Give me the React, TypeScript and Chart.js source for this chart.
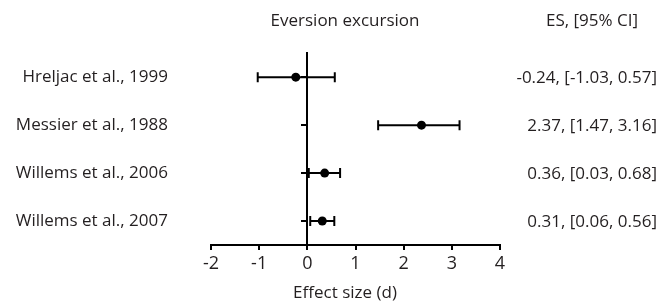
import React, { useEffect, useRef } from "react";
import { Chart, registerables } from "chart.js";

Chart.register(...registerables);

const studies = [
  "Hreljac et al., 1999",
  "Messier et al., 1988",
  "Willems et al., 2006",
  "Willems et al., 2007",
];
const effectSizes = [-0.24, 2.37, 0.36, 0.31];
const lowerCI = [-1.03, 1.47, 0.03, 0.06];
const upperCI = [0.57, 3.16, 0.68, 0.56];
const xTicks = [-2, -1, 0, 1, 2, 3, 4];

const plotTitle = "Eversion excursion";
const columnTitle = "ES, [95% CI]";
const xTitle = "Effect size (d)";

const FONT = "'Open Sans', sans-serif";
const TEXT = "#231f20";
const INK = "#000000";

const rowTicks = (axis: any) => {
  axis.ticks = studies.map((_, i) => ({ value: i }));
};

export default function App() {
  const ref = useRef<HTMLCanvasElement | null>(null);

  useEffect(() => {
    if (!ref.current) return;

    const ciSets = studies.map((_, i) => ({
      type: "scatter" as const,
      data: [
        { x: lowerCI[i], y: i },
        { x: upperCI[i], y: i },
      ],
      showLine: true,
      borderColor: INK,
      borderWidth: 2,
      pointStyle: "line" as const,
      rotation: 90,
      pointRadius: 5,
      pointBorderWidth: 2,
      pointBorderColor: INK,
      pointBackgroundColor: INK,
      yAxisID: "y",
      order: 2,
    }));

    const annotations = {
      id: "forestText",
      afterDraw(chart: any) {
        const { ctx } = chart;
        const ys = chart.scales.y;
        ctx.save();
        ctx.fillStyle = TEXT;
        ctx.font = `17px ${FONT}`;
        ctx.textBaseline = "middle";
        ctx.textAlign = "center";
        ctx.fillText(plotTitle, 345, 21);
        ctx.fillText(columnTitle, 592, 21);
        ctx.fillText(xTitle, 345, 293);
        ctx.textAlign = "right";
        studies.forEach((_, i) => {
          const t = `${effectSizes[i].toFixed(2)}, [${lowerCI[i].toFixed(2)}, ${upperCI[i].toFixed(2)}]`;
          ctx.fillText(t, 657, ys.getPixelForValue(i) + 1);
        });
        ctx.restore();
      },
    };

    const chart = new Chart(ref.current, {
      type: "scatter",
      data: {
        datasets: [
          ...ciSets,
          {
            type: "scatter",
            data: effectSizes.map((v, i) => ({ x: v, y: i })),
            pointRadius: 4.5,
            pointBackgroundColor: INK,
            pointBorderColor: INK,
            pointBorderWidth: 0,
            yAxisID: "y",
            order: 1,
          } as any,
        ],
      },
      options: {
        animation: false,
        responsive: true,
        maintainAspectRatio: false,
        layout: { padding: { top: 52, right: 164, left: 0, bottom: 0 } },
        plugins: { legend: { display: false }, tooltip: { enabled: false } },
        scales: {
          x: {
            type: "linear",
            min: -2,
            max: 4,
            afterBuildTicks: (axis: any) => {
              axis.ticks = xTicks.map((v) => ({ value: v }));
            },
            afterFit: (scale: any) => {
              scale.height = 56;
            },
            border: { display: true, color: INK, width: 2 },
            grid: {
              display: true,
              drawOnChartArea: false,
              drawTicks: true,
              tickLength: 5,
              color: INK,
              lineWidth: 2,
            },
            ticks: {
              color: TEXT,
              font: { family: FONT, size: 18 },
              padding: 3,
              autoSkip: false,
              maxRotation: 0,
            },
          },
          y: {
            type: "linear",
            position: { x: 0 } as any,
            min: -0.5,
            max: 3.5,
            reverse: true,
            afterBuildTicks: rowTicks,
            border: { display: true, color: INK, width: 2 },
            grid: {
              display: true,
              drawOnChartArea: false,
              drawTicks: true,
              tickLength: 5,
              color: INK,
              lineWidth: 2,
            },
            ticks: { display: false },
          },
          yLabels: {
            type: "linear",
            position: "left",
            min: -0.5,
            max: 3.5,
            reverse: true,
            afterBuildTicks: rowTicks,
            afterFit: (scale: any) => {
              scale.width = 211;
            },
            border: { display: false },
            grid: { display: false, drawTicks: false },
            ticks: {
              color: TEXT,
              font: { family: FONT, size: 17 },
              padding: 43,
              callback: (v: any) => studies[Number(v)] ?? "",
            },
          },
        },
      } as any,
      plugins: [annotations],
    });

    return () => chart.destroy();
  }, []);

  return (
    <div style={{ position: "fixed", left: 0, top: 0, width: 664, height: 301, background: "#fff" }}>
      <canvas ref={ref} />
    </div>
  );
}
